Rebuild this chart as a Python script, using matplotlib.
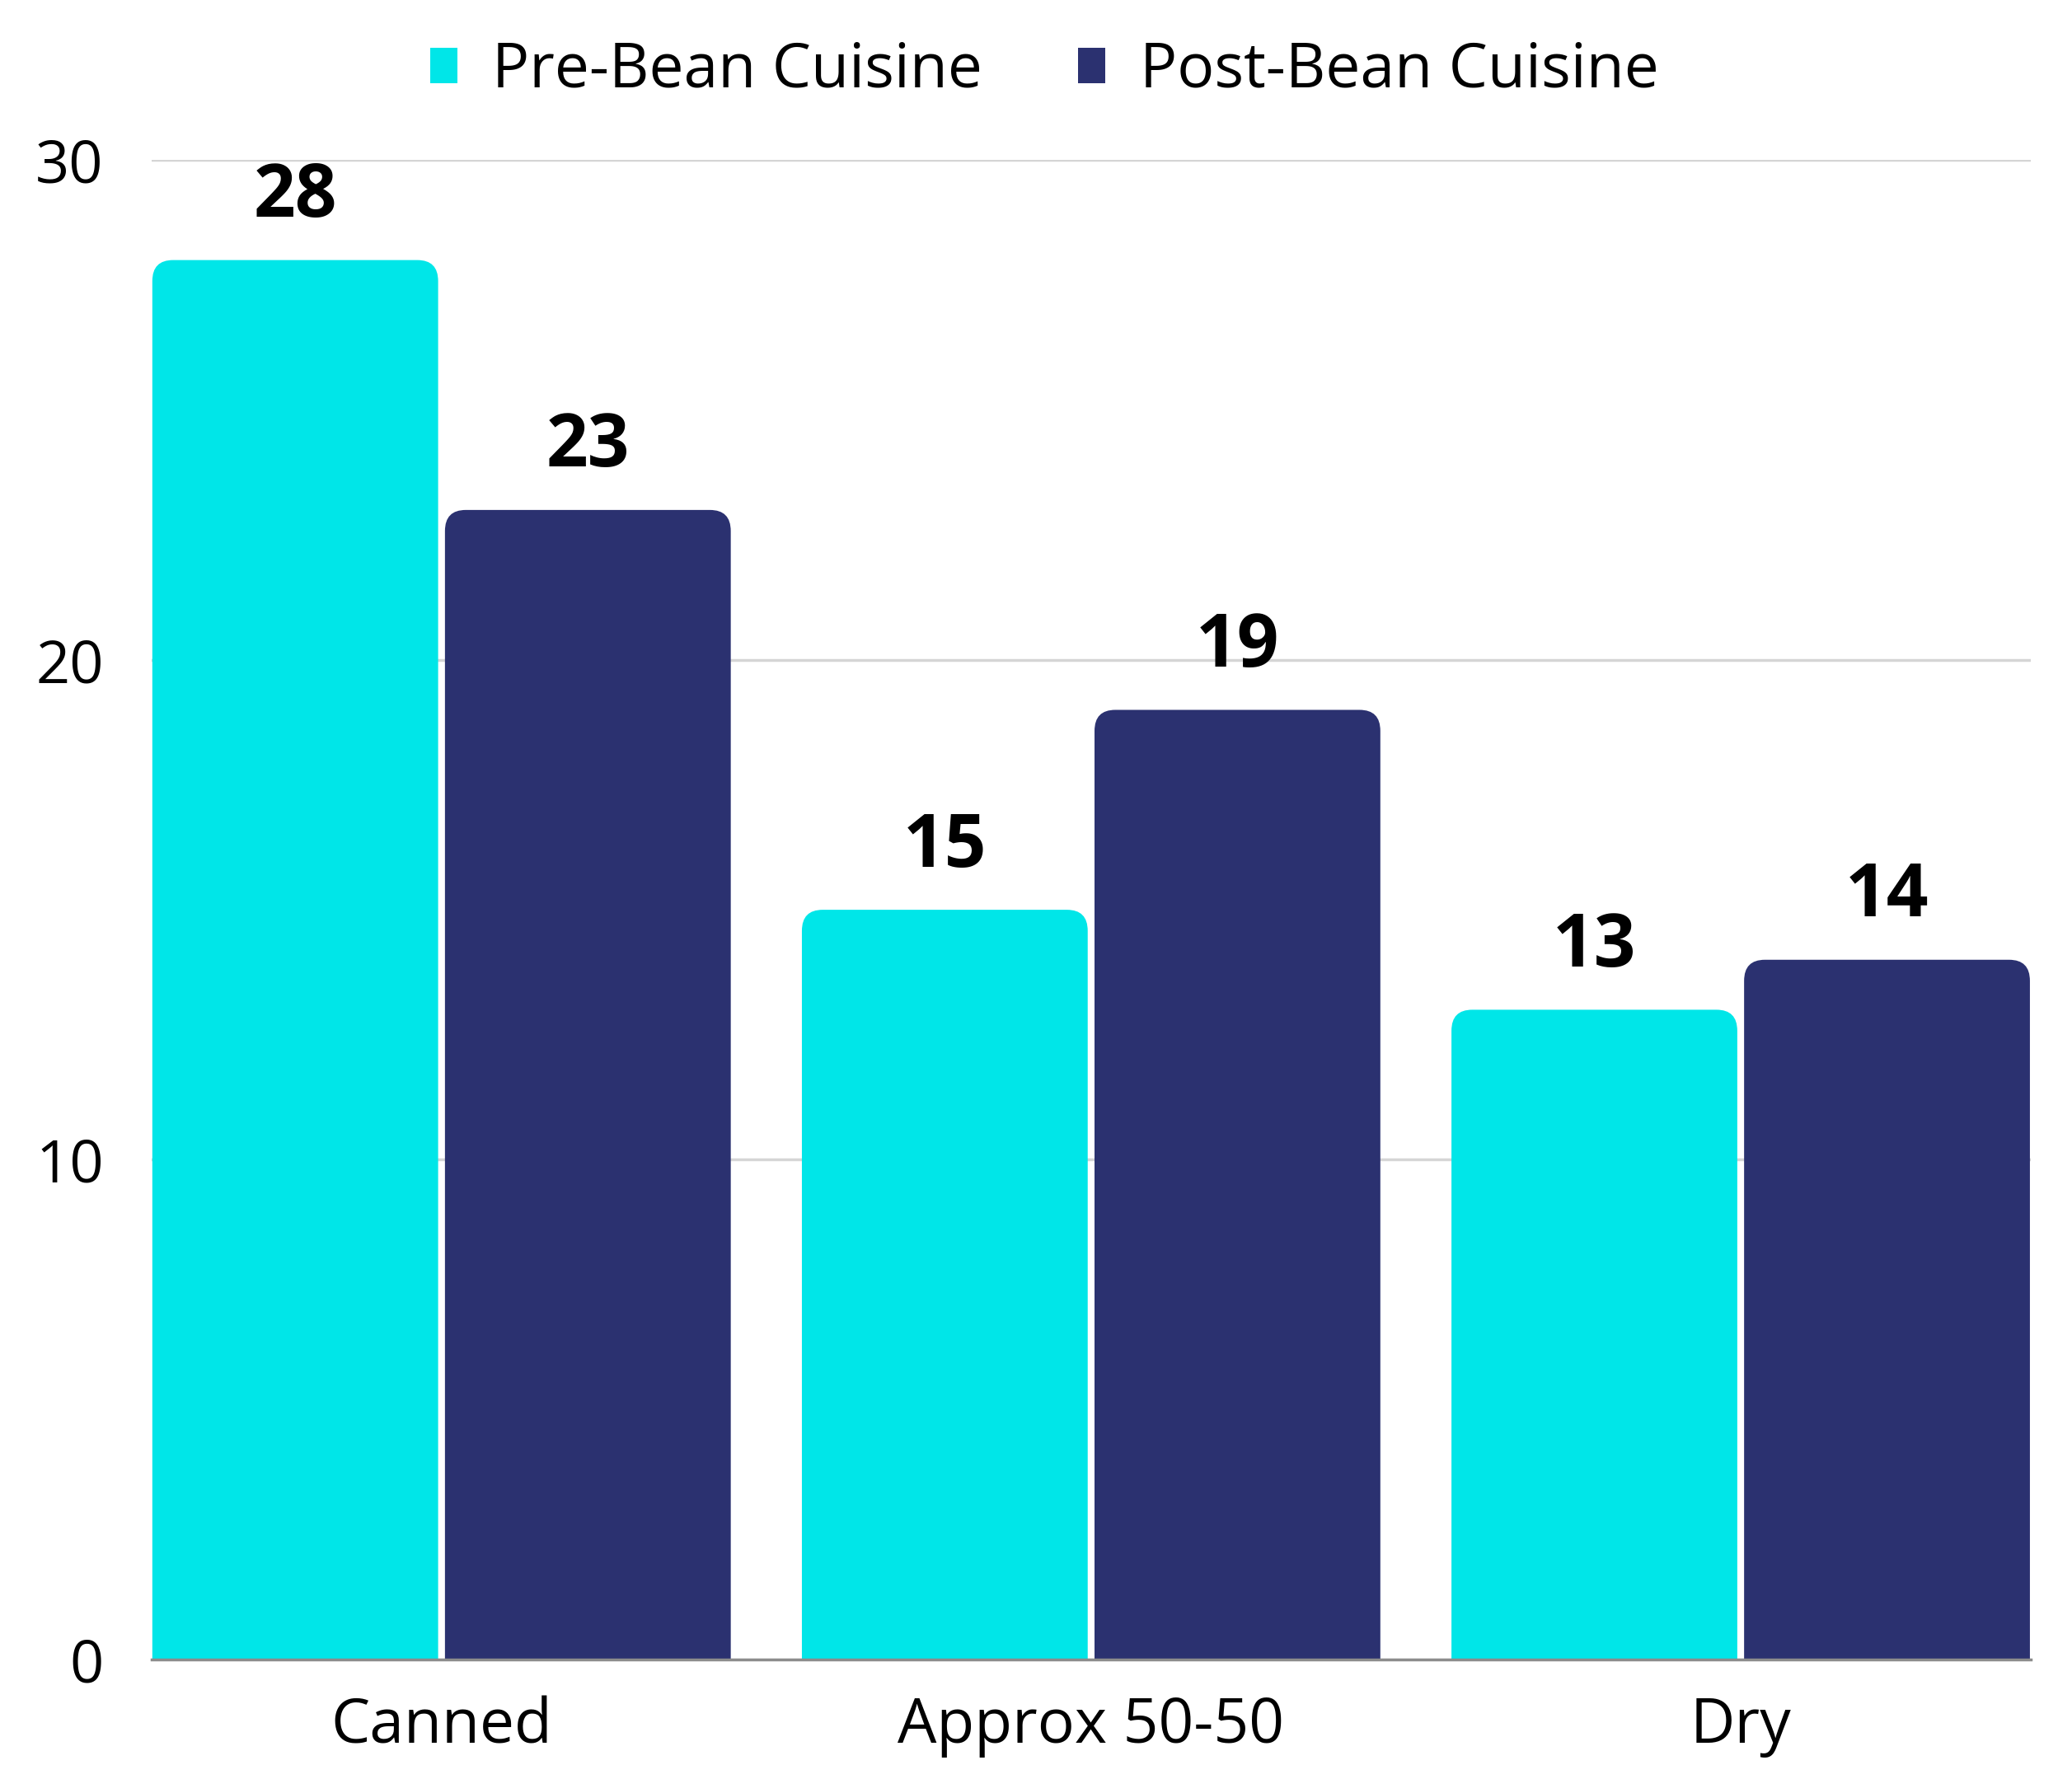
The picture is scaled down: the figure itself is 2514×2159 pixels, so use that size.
import numpy as np
import matplotlib
matplotlib.use("Agg")
import matplotlib.pyplot as plt
from matplotlib.path import Path
from matplotlib.patches import PathPatch, Patch

categories = ["Canned", "Approx 50-50", "Dry"]
pre_bean = [28, 15, 13]
post_bean = [23, 19, 14]
series_names = ["Pre-Bean Cuisine", "Post-Bean Cuisine"]
colors = ["#00E6E8", "#2B3170"]
yticks = [0, 10, 20, 30]

plt.rcParams['font.family'] = ['Open Sans', 'DejaVu Sans']

fig = plt.figure(figsize=(25.14, 21.59), dpi=100)
ax = fig.add_axes([0.0732, 0.0672, 0.9068, 0.8428])

x = np.arange(len(categories))
w = 0.44
gap = 0.0105


def round_top(bars, rx, ry):
    # swap each rectangle for a path with rounded top corners
    for b in bars:
        x0, y0 = b.get_x(), b.get_y()
        x1, y1 = x0 + b.get_width(), y0 + b.get_height()
        verts = [(x0, y0), (x0, y1 - ry), (x0, y1), (x0 + rx, y1),
                 (x1 - rx, y1), (x1, y1), (x1, y1 - ry), (x1, y0), (x0, y0)]
        codes = [Path.MOVETO, Path.LINETO, Path.CURVE3, Path.CURVE3,
                 Path.LINETO, Path.CURVE3, Path.CURVE3, Path.LINETO, Path.CLOSEPOLY]
        ax.add_patch(PathPatch(Path(verts, codes), facecolor=b.get_facecolor(),
                               edgecolor="none", zorder=3))
        b.set_visible(False)


b1 = ax.bar(x - (w + gap) / 2, pre_bean, w, color=colors[0], label=series_names[0])
b2 = ax.bar(x + (w + gap) / 2, post_bean, w, color=colors[1], label=series_names[1])
round_top(b1, 0.032, 0.42)
round_top(b2, 0.032, 0.42)

for bars, vals in [(b1, pre_bean), (b2, post_bean)]:
    for b, v in zip(bars, vals):
        ax.annotate(str(v), (b.get_x() + b.get_width() / 2, v), xytext=(0, 22),
                    textcoords="offset points", ha="center", va="bottom",
                    fontsize=64, fontweight="bold", color="black")

ax.set_xlim(x[0] - gap / 2 - w - 0.001, x[-1] + gap / 2 + w + 0.001)
ax.set_ylim(0, 30)
ax.set_yticks(yticks)
ax.set_xticks(x)
ax.set_xticklabels(categories)
ax.tick_params(axis="y", length=0, pad=42, labelsize=52)
ax.tick_params(axis="x", length=0, pad=32, labelsize=54)
ax.grid(axis="y", color="#D5D5D5", linewidth=2.5, zorder=0)
ax.set_axisbelow(True)
for s in ["top", "right", "left"]:
    ax.spines[s].set_visible(False)
ax.spines["bottom"].set_color("#8C8C8C")
ax.spines["bottom"].set_linewidth(2.5)
ax.spines["bottom"].set_zorder(4)

handles = [Patch(facecolor=c, edgecolor="none") for c in colors]
fig.legend(handles, series_names, loc="center", bbox_to_anchor=(0.504, 0.960),
           ncol=2, frameon=False, fontsize=54, handlelength=0.45, handleheight=0.5,
           handletextpad=0.55, columnspacing=1.55)

fig.savefig("out.png", dpi=100)
